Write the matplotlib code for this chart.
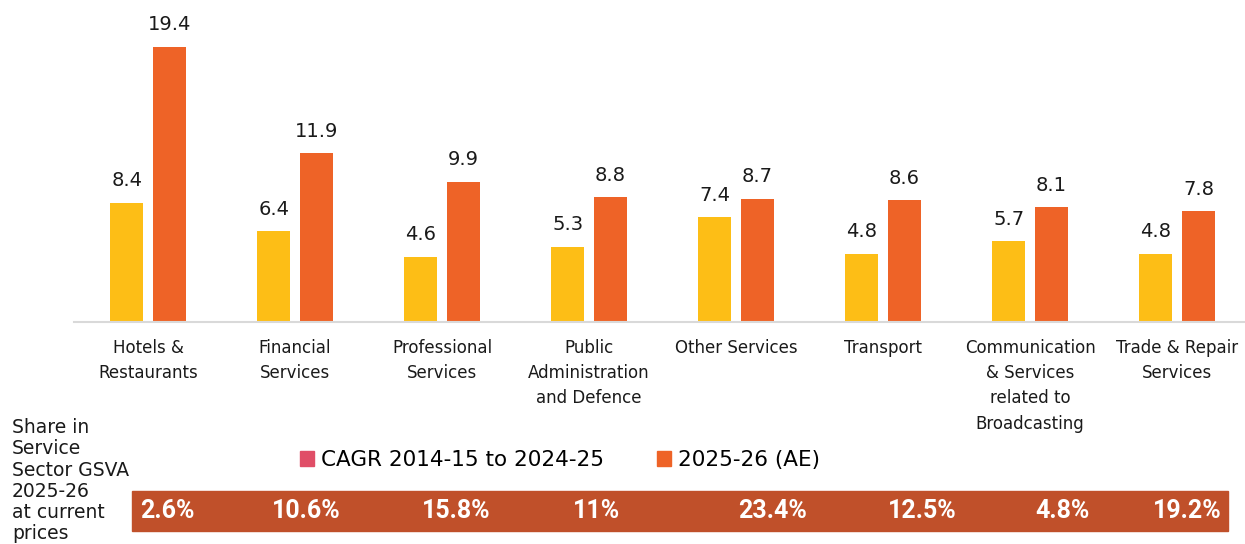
import matplotlib
matplotlib.use("Agg")
import matplotlib.pyplot as plt
import matplotlib.transforms as mtransforms
from matplotlib.patches import Patch, Rectangle
import numpy as np

# ---- data ----
categories = ["Hotels &\nRestaurants", "Financial\nServices", "Professional\nServices",
              "Public\nAdministration\nand Defence", "Other Services", "Transport",
              "Communication\n& Services\nrelated to\nBroadcasting", "Trade & Repair\nServices"]
cagr = [8.4, 6.4, 4.6, 5.3, 7.4, 4.8, 5.7, 4.8]
ae_2526 = [19.4, 11.9, 9.9, 8.8, 8.7, 8.6, 8.1, 7.8]
share = ["2.6%", "10.6%", "15.8%", "11%", "23.4%", "12.5%", "4.8%", "19.2%"]
legend_labels = ["CAGR 2014-15 to 2024-25", "2025-26 (AE)"]

# layout only: horizontal nudges of the share labels inside the band
share_nudge = [0.13, 0.08, 0.10, 0.05, 0.25, 0.27, 0.22, 0.07]

YELLOW = "#FDBE16"
ORANGE = "#EE6327"
BAND = "#C0502A"
PINK = "#E04E67"
TXT = "#1A1A1A"

plt.rcParams['font.family'] = ['DejaVu Sans']

W, H = 1245, 544
fig = plt.figure(figsize=(W / 100, H / 100), dpi=100)

# main bar axes
ax_left, ax_right = 74.5 / W, 1250.5 / W
ax_bottom = (H - 322) / H
ax = fig.add_axes([ax_left, ax_bottom, ax_right - ax_left, 1 - ax_bottom])

x = np.arange(len(categories))
bw = 0.225
ax.bar(x - 0.144, cagr, bw, color=YELLOW)
ax.bar(x + 0.146, ae_2526, bw, color=ORANGE)

for xi, v in zip(x, cagr):
    ax.annotate(f"{v}", (xi - 0.144, v), xytext=(0, 9), textcoords="offset points",
                ha="center", va="bottom", fontsize=14, color=TXT)
for xi, v in zip(x, ae_2526):
    ax.annotate(f"{v}", (xi + 0.146, v), xytext=(0, 9), textcoords="offset points",
                ha="center", va="bottom", fontsize=14, color=TXT)

ax.set_xlim(-0.5, len(categories) - 0.5)
ax.set_ylim(0, 322 / 14.18)
for s in ["top", "right", "left"]:
    ax.spines[s].set_visible(False)
ax.spines["bottom"].set_color("#D9D9D9")
ax.spines["bottom"].set_linewidth(1.5)
ax.set_yticks([])
ax.set_xticks(x)
ax.set_xticklabels(categories, fontsize=12, linespacing=1.52, color=TXT)
ax.tick_params(axis="x", length=0, pad=12)

# left caption
fig.text(12 / W, 1 - 418 / H, "Share in\nService\nSector GSVA\n2025-26\nat current\nprices",
         ha="left", va="top", fontsize=13.5, linespacing=1.15, color=TXT)

# legend
handles = [Patch(color=PINK), Patch(color=ORANGE)]
fig.legend(handles, legend_labels, loc="center", bbox_to_anchor=(560 / W, 1 - 460 / H),
           ncol=2, frameon=False, fontsize=15.5, handlelength=0.65, handleheight=0.65,
           handletextpad=0.35, columnspacing=2.45, borderpad=0)

# share band
fig.patches.append(Rectangle((132 / W, 1 - 531 / H), (1228 - 132) / W, 40 / H,
                             transform=fig.transFigure, color=BAND, zorder=0))
trans = mtransforms.blended_transform_factory(ax.transData, fig.transFigure)
for xi, s, dx in zip(x, share, share_nudge):
    fig.text(xi + dx, 1 - 511 / H, s, transform=trans, ha="center", va="center",
             fontsize=18, fontweight="bold", color="white", family=["Roboto", "DejaVu Sans"])

fig.savefig("out.png", dpi=100)
